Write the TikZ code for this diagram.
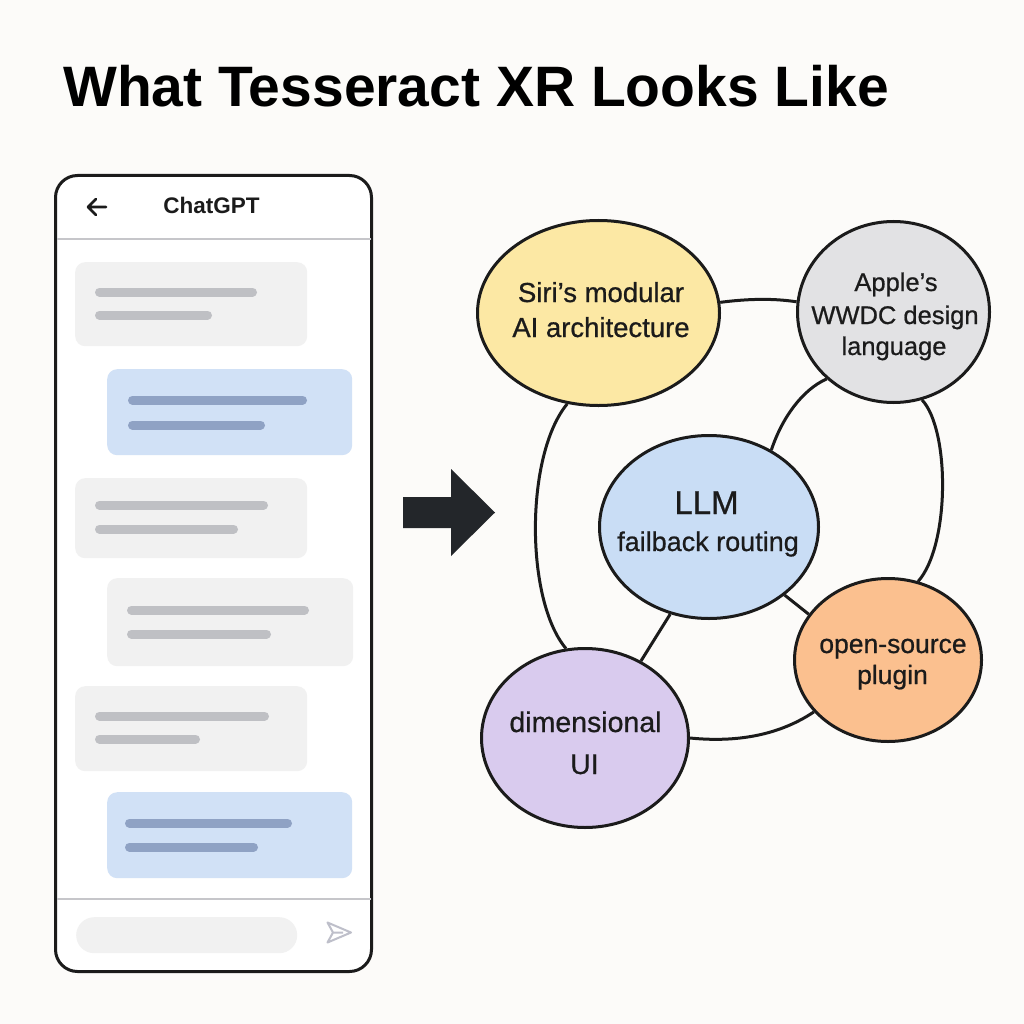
\documentclass[tikz,border=0pt]{standalone}
\usepackage{fontspec}
\setmainfont{Liberation Sans}
\newfontfamily\medfont{Liberation Sans}[FakeBold=0.7]
\usetikzlibrary{shapes.geometric}
\definecolor{bg}{HTML}{FCFBF9}
\definecolor{ink}{HTML}{1B1B1B}
\definecolor{sepc}{HTML}{C6C6CA}
\definecolor{gbubc}{HTML}{F1F1F1}
\definecolor{bbubc}{HTML}{D1E1F6}
\definecolor{gbar}{HTML}{BFC0C4}
\definecolor{bbar}{HTML}{8FA2C4}
\definecolor{sendc}{HTML}{BEBFCA}
\definecolor{arrowc}{HTML}{23262A}
\definecolor{siric}{HTML}{FCE8A4}
\definecolor{applec}{HTML}{E2E2E4}
\definecolor{llmc}{HTML}{C9DDF5}
\definecolor{orangec}{HTML}{FBC08F}
\definecolor{purplec}{HTML}{D9CBEE}
\tikzset{
  gbub/.style={fill=gbubc, rounded corners=10pt, inner sep=0pt, anchor=north west},
  bbub/.style={fill=bbubc, rounded corners=10pt, inner sep=0pt, anchor=north west},
  gline/.style={draw=gbar, line width=9pt, line cap=round},
  bline/.style={draw=bbar, line width=9pt, line cap=round},
  sepline/.style={draw=sepc, line width=1.5pt},
  el/.style={ellipse, draw=ink, line width=3pt, inner sep=0pt},
  lbl/.style={anchor=base, inner sep=0pt, text=ink},
  conn/.style={draw=ink, line width=3pt},
}
\begin{document}
\begin{tikzpicture}[x=1pt,y=-1pt]
\useasboundingbox (0,0) rectangle (1024,1024);
\fill[bg] (0,0) rectangle (1024,1024);

% title
\node[anchor=base west, inner sep=0pt, text=black,
      font=\fontsize{57}{60}\selectfont\bfseries] (title) at (63,107) {What Tesseract XR Looks Like};

% phone
\node[draw=ink, line width=3pt, fill=white, rounded corners=22pt,
      minimum width=316pt, minimum height=796pt, inner sep=0pt] (phone) at (213.5,573.5) {};
\draw[sepline] (57,239) -- (371,239);
\draw[sepline] (57,899) -- (371,899);
\draw[ink, line width=2.6pt, line cap=round, line join=round]
  (106,207) -- (88,207) (96,199) -- (88,207) -- (96,215);
\node[lbl, font=\fontsize{22.5}{24}\selectfont\bfseries] (hdr) at (211.5,214) {ChatGPT};

\node[gbub, minimum width=232pt, minimum height=84pt] (b1) at (75,262) {};
\draw[gline] (99.5,292) -- (252.5,292);
\draw[gline] (99.5,315) -- (207.5,315);

\node[bbub, minimum width=245pt, minimum height=86pt] (b2) at (107,369) {};
\draw[bline] (132.5,400) -- (302.5,400);
\draw[bline] (132.5,425) -- (260.5,425);

\node[gbub, minimum width=232pt, minimum height=80pt] (b3) at (75,478) {};
\draw[gline] (99.5,505) -- (263.5,505);
\draw[gline] (99.5,529) -- (233.5,529);

\node[gbub, minimum width=246pt, minimum height=88pt] (b4) at (107,578) {};
\draw[gline] (131.5,610) -- (304.5,610);
\draw[gline] (131.5,634) -- (266.5,634);

\node[gbub, minimum width=232pt, minimum height=85pt] (b5) at (75,686) {};
\draw[gline] (99.5,716) -- (264.5,716);
\draw[gline] (99.5,739) -- (195.5,739);

\node[bbub, minimum width=245pt, minimum height=86pt] (b6) at (107,792) {};
\draw[bline] (129.5,823) -- (287.5,823);
\draw[bline] (129.5,847) -- (253.5,847);

\node[fill=gbubc, rounded corners=18pt, inner sep=0pt, anchor=north west,
      minimum width=221pt, minimum height=36pt] (input) at (76,917) {};
\draw[sendc, line width=2pt, line join=round]
  (351,932.5) -- (327.5,922.5) -- (333,932.5) -- (327.5,942.5) -- cycle
  (333,932.5) -- (343,932.5);

% arrow
\fill[arrowc] (403,497) -- (451,497) -- (451,469) -- (495,512.5) -- (451,556) -- (451,528) -- (403,528) -- cycle;

% ellipses
\node[el, fill=siric,   minimum width=242pt, minimum height=185pt] (siri)   at (598.5,313) {};
\node[el, fill=applec,  minimum width=192pt, minimum height=181pt] (apple)  at (893.5,312) {};
\node[el, fill=llmc,    minimum width=219pt, minimum height=183pt] (llm)    at (709,527) {};
\node[el, fill=orangec, minimum width=187pt, minimum height=163pt] (orange) at (888,660) {};
\node[el, fill=purplec, minimum width=207pt, minimum height=179pt] (purple) at (585,738) {};

% labels
\begin{scope}[font=\medfont\fontsize{27.5}{33}\selectfont]
\node[lbl] (siri1) at (601,302) {Siri’s modular};
\node[lbl] (siri2) at (601,337) {AI architecture};
\end{scope}
\begin{scope}[font=\medfont\fontsize{25.5}{30}\selectfont]
\node[lbl] (apple1) at (896,291) {Apple’s};
\node[lbl] (apple2) at (895,324) {WWDC design};
\node[lbl] (apple3) at (894,355) {language};
\end{scope}
\node[lbl, font=\medfont\fontsize{33}{38}\selectfont] (llm1) at (706.5,514) {LLM};
\node[lbl, font=\medfont\fontsize{27}{32}\selectfont] (llm2) at (708,551) {failback routing};
\begin{scope}[font=\medfont\fontsize{26.5}{31}\selectfont]
\node[lbl] (or1) at (893,653) {open-source};
\node[lbl] (or2) at (892.5,684) {plugin};
\end{scope}
\begin{scope}[font=\medfont\fontsize{28.5}{33}\selectfont]
\node[lbl] (pu1) at (585.5,732) {dimensional};
\node[lbl] (pu2) at (584.5,774) {UI};
\end{scope}

% connectors
\draw[conn] (siri.5) .. controls (746,299) and (772,298) .. (apple.174);
\draw[conn] (siri.251) .. controls (525,455) and (525,600) .. (purple.102);
\draw[conn] (apple.-72) .. controls (950,430) and (950,545) .. (orange.69);
\draw[conn] (purple.0) .. controls (730,742) and (775,738) .. (orange.215);
\draw[conn] (apple.225) .. controls (802,390) and (782,418) .. (llm.51);
\draw[conn] (llm.-42) -- (orange.150);
\draw[conn] (llm.246) -- (purple.54);
\end{tikzpicture}
\end{document}
